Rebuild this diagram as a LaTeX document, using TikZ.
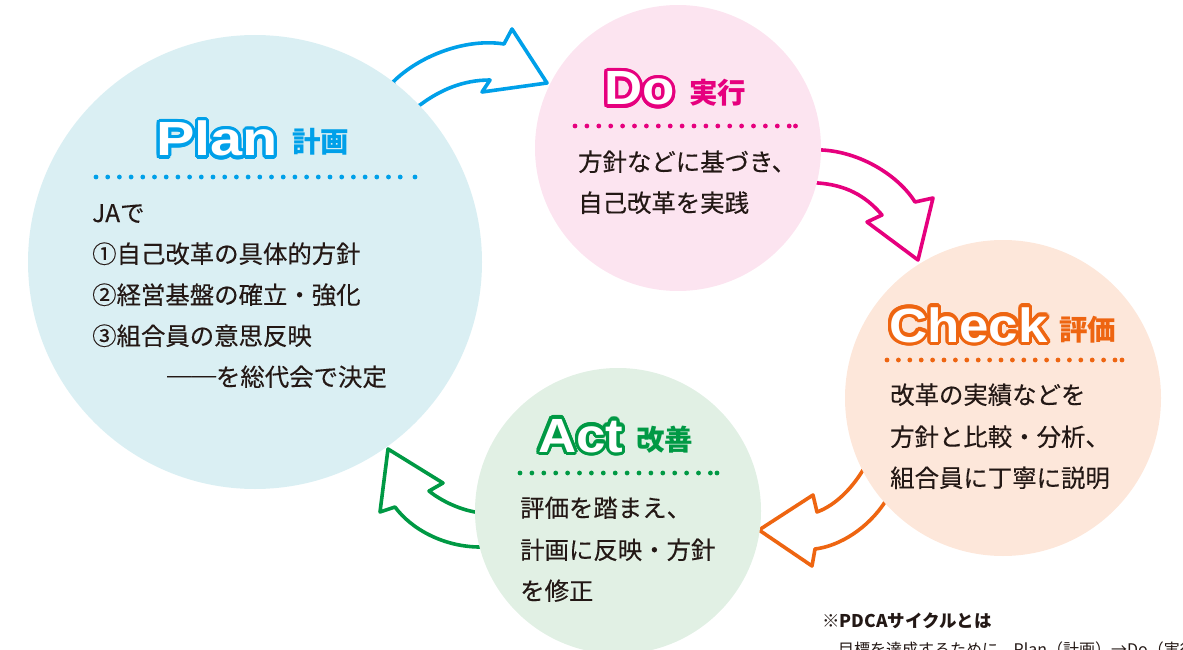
\documentclass[tikz,border=0pt]{standalone}
\usepackage{fontspec}
\setmainfont{Liberation Sans}
\newfontfamily\jp{Noto Sans CJK JP}
\newfontfamily\jpbody[FakeBold=0.3]{Noto Sans CJK JP}
\newfontfamily\ttlfont[FakeStretch=1.1]{Liberation Sans}
\newfontfamily\ttlplan[FakeStretch=1.2]{Liberation Sans}
\usetikzlibrary{calc}
\definecolor{pblue}{HTML}{00A0E9}
\definecolor{ppink}{HTML}{E6007E}
\definecolor{porange}{HTML}{EE6511}
\definecolor{pgreen}{HTML}{009944}
\definecolor{fblue}{HTML}{DAEFF3}
\definecolor{fpink}{HTML}{FCE4F0}
\definecolor{forange}{HTML}{FDE7DA}
\definecolor{fgreen}{HTML}{E1F0E4}
\definecolor{txt}{HTML}{231815}
\tikzset{
  cyc/.style={line width=3.6pt, line join=round, fill=white},
  titletxt/.style={anchor=base west, inner sep=0pt, font=\ttlfont\bfseries\fontsize{48}{48}\selectfont},
  headjp/.style={anchor=base west, inner sep=0pt, font=\jp\bfseries\fontsize{28.5}{28.5}\selectfont},
  body/.style={anchor=base west, inner sep=0pt, text=txt, font=\jpbody\fontsize{24.4}{24.4}\selectfont},
}
\newcommand{\ttlnode}[5]{%
  \foreach \ang in {0,15,...,345}{\path (#2,#3) ++(\ang:3.2) node[titletxt,text=#4]{#5};}
  \foreach \ang in {0,30,...,330}{\path (#2,#3) ++(\ang:1.7) node[titletxt,text=#4]{#5};}
  \node[titletxt,text=white] (#1) at (#2,#3) {#5};}
\begin{document}
\begin{tikzpicture}[x=1pt,y=-1pt]
\clip (0,0) rectangle (1183,650);
\useasboundingbox (0,0) rectangle (1183,650);

% arrows (drawn first, circles cover their tails)
\draw[cyc, draw=pblue] (405,112) -- (393,82) .. controls (420,55) and (467,38) .. (504,44)
  -- (512,29) -- (547,83) -- (482,92) -- (490,80) .. controls (463,80) and (440,90) .. (420,105) -- cycle;
\draw[cyc, draw=ppink] (808,148) -- (822,150) .. controls (860,152) and (898,175) .. (915,202)
  -- (933,198) -- (918,260) -- (867,222) -- (882,215) .. controls (865,195) and (845,185) .. (818,183)
  -- (805,180) -- cycle;
\draw[cyc, draw=porange] (878,462) -- (863,470) .. controls (852,488) and (836,505) .. (817,512)
  -- (813,495) -- (759,530) -- (812,566) -- (815,549) .. controls (840,546) and (868,528) .. (885,502)
  -- (897,492) -- cycle;
\draw[cyc, draw=pgreen] (490,512) -- (475,512) .. controls (458,509) and (440,500) .. (429,491)
  -- (443,483) -- (388,449) -- (380,512) -- (395,507) .. controls (412,530) and (445,547) .. (480,547)
  -- (495,545) -- cycle;

% circles
\fill[fblue] (255,262) circle (227);
\fill[fpink] (678,148) circle (143);
\fill[forange] (1003,398) circle (158);
\fill[fgreen] (618,511) circle (143);

% Plan
\ttlnode{planT}{156}{156}{pblue}{{\ttlplan Plan}}
\node[headjp, text=pblue] (planJ) at (292,153) {計画};
\foreach \i in {0,...,26} \fill[pblue] ({96+\i*11.7},177) circle (2.4);
\fill[pblue] (415,177) circle (2.4);
\node[body] (p1) at (92,222) {JAで};
\node[body] (p2) at (92,263) {①自己改革の具体的方針};
\node[body] (p3) at (92,304) {②経営基盤の確立・強化};
\node[body] (p4) at (92,345) {③組合員の意思反映};
\node[body] (p5) at (167,386) {──を総代会で決定};

% Do
\ttlnode{doT}{604}{105}{ppink}{Do}
\node[headjp, text=ppink] (doJ) at (689,104) {実行};
\foreach \i in {0,...,18} \fill[ppink] ({575+\i*11.9},126) circle (2.4);
\fill[ppink] (795.5,126) circle (2.4);
\node[body] (d1) at (578,171) {方針などに基づき、};
\node[body] (d2) at (578,212) {自己改革を実践};

% Check
\ttlnode{chT}{889}{342}{porange}{Check}
\node[headjp, text=porange] (chJ) at (1059,340) {評価};
\foreach \i in {0,...,20} \fill[porange] ({887+\i*11.4},360) circle (2.4);
\fill[porange] (1122,360) circle (2.4);
\node[body] (c1) at (890,404) {改革の実績などを};
\node[body] (c2) at (890,446) {方針と比較・分析、};
\node[body] (c3) at (890,487) {組合員に丁寧に説明};

% Act
\ttlnode{acT}{538}{452}{pgreen}{Act}
\node[headjp, text=pgreen] (acJ) at (636,450) {改善};
\foreach \i in {0,...,16} \fill[pgreen] ({520+\i*11.9},473) circle (2.4);
\fill[pgreen] (717,473) circle (2.4);
\node[body] (a1) at (520,517) {評価を踏まえ、};
\node[body] (a2) at (520,559) {計画に反映・方針};
\node[body] (a3) at (520,600) {を修正};

% footnote
\node[anchor=base west, inner sep=0pt, text=txt, font=\jp\bfseries\fontsize{17.5}{17.5}\selectfont] (n1) at (822,627) {※PDCAサイクルとは};
\node[anchor=base west, inner sep=0pt, text=txt, font=\jp\fontsize{16}{16}\selectfont] (n2) at (838,655) {目標を達成するために、Plan（計画）→Do（実行）};
\end{tikzpicture}
\end{document}
